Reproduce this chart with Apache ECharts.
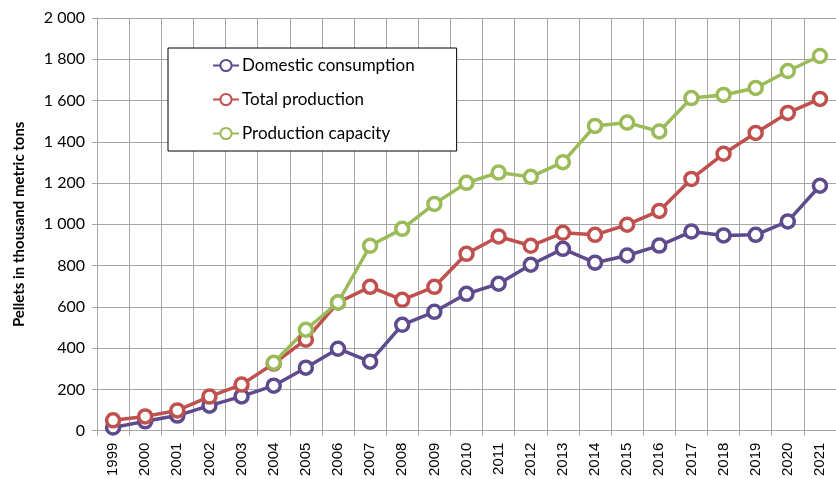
<!DOCTYPE html>
<html>
<head>
<meta charset="utf-8">
<script src="https://cdn.jsdelivr.net/npm/echarts@6/dist/echarts.min.js"></script>
<style>
  html, body { margin: 0; padding: 0; background: #fff; }
  #chart { width: 836px; height: 479px; }
</style>
</head>
<body>
<div id="chart"></div>
<script>
// Pellet market, thousand metric tons per year
const years = ['1999','2000','2001','2002','2003','2004','2005','2006','2007','2008','2009','2010',
               '2011','2012','2013','2014','2015','2016','2017','2018','2019','2020','2021'];
const domesticConsumption = [15, 45, 73, 121, 166, 218, 305, 397, 334, 513, 576, 663,
                             712, 804, 881, 814, 849, 897, 965, 946, 949, 1014, 1187];
const totalProduction = [50, 69, 98, 165, 223, 325, 441, 621, 697, 634, 697, 857,
                         941, 896, 959, 949, 998, 1065, 1220, 1342, 1443, 1540, 1608];
const productionCapacity = [null, null, null, null, null, 329, 489, 621, 896, 978, 1099, 1201,
                            1251, 1230, 1301, 1477, 1493, 1450, 1612, 1627, 1661, 1743, 1816];
const yTicks = { min: 0, max: 2000, step: 200 };

const gridGrey = '#a6a6a6';

function lineSeries(name, data, color) {
  return {
    name: name,
    type: 'line',
    data: data,
    symbol: 'circle',
    symbolSize: 13,
    showSymbol: true,
    connectNulls: false,
    lineStyle: { color: color, width: 3.5 },
    itemStyle: { color: '#ffffff', borderColor: color, borderWidth: 3.5 },
    emphasis: { disabled: true },
    z: 2
  };
}

const chart = echarts.init(document.getElementById('chart'), null, { renderer: 'canvas' });
chart.setOption({
  animation: false,
  backgroundColor: '#ffffff',
  grid: { left: 97, top: 18, width: 746, height: 413, containLabel: false },
  legend: {
    orient: 'vertical',
    left: 168,
    top: 48,
    padding: [9, 42, 9, 44],
    itemGap: 17,
    itemWidth: 26,
    itemHeight: 14,
    backgroundColor: '#ffffff',
    borderColor: '#000000',
    borderWidth: 1,
    textStyle: { fontFamily: 'Lato', fontSize: 17, color: '#000000', padding: [0, 0, 0, -2] },
    data: ['Domestic consumption', 'Total production', 'Production capacity']
  },
  xAxis: {
    type: 'category',
    data: years,
    boundaryGap: true,
    axisLine: { show: true, lineStyle: { color: gridGrey, width: 1 } },
    axisTick: { show: true, alignWithLabel: false, length: 5, lineStyle: { color: gridGrey } },
    splitLine: { show: true, lineStyle: { color: gridGrey, width: 1 } },
    axisLabel: {
      rotate: 90,
      margin: 12,
      fontFamily: 'Liberation Sans',
      fontSize: 15,
      color: '#000000',
      interval: 0
    }
  },
  yAxis: {
    type: 'value',
    min: yTicks.min,
    max: yTicks.max,
    interval: yTicks.step,
    name: 'Pellets in thousand metric tons',
    nameLocation: 'middle',
    nameGap: 70,
    nameRotate: 90,
    nameTextStyle: { fontFamily: 'Lato', fontWeight: 'bold', fontSize: 15, color: '#000000' },
    axisLine: { show: true, lineStyle: { color: gridGrey, width: 1 } },
    axisTick: { show: true, length: 5, lineStyle: { color: gridGrey } },
    splitLine: { show: true, lineStyle: { color: gridGrey, width: 1 } },
    axisLabel: {
      margin: 12,
      fontFamily: 'Lato',
      fontSize: 16,
      color: '#000000',
      formatter: function (v) {
        return String(v).replace(/\B(?=(\d{3})+(?!\d))/g, ' ');
      }
    }
  },
  series: [
    lineSeries('Domestic consumption', domesticConsumption, '#5e4a8c'),
    lineSeries('Total production', totalProduction, '#c0504d'),
    lineSeries('Production capacity', productionCapacity, '#9bbb59')
  ]
});
</script>
</body>
</html>
